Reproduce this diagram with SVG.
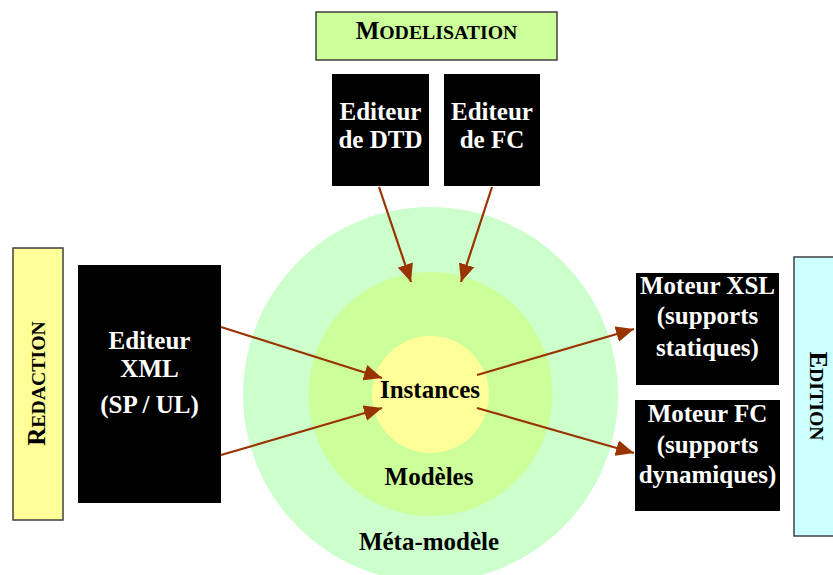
<svg xmlns="http://www.w3.org/2000/svg" width="833" height="575" viewBox="0 0 833 575" font-family="Liberation Serif, Times New Roman, serif" font-weight="bold">
<defs>
<style>
.w{font-size:25px;fill:#fff;text-anchor:middle;}
.b{font-size:25px;fill:#000;text-anchor:middle;}
.box{fill:#000;}
.frame{stroke:#404040;stroke-width:1.5;}
.sc{font-size:19.8px;}
.arr{stroke:#993300;stroke-width:2.2;fill:none;marker-end:url(#ah);}
</style>
<marker id="ah" markerUnits="userSpaceOnUse" markerWidth="20" markerHeight="16" viewBox="0 0 20 16" refX="18" refY="8" orient="auto">
<path d="M0,0 L18,8 L0,16 Z" fill="#993300"/>
</marker>
</defs>
<rect width="833" height="575" fill="#fff"/>
<g id="circles">
<circle cx="430.5" cy="394.5" r="187.5" fill="#CCFFCC"/>
<circle cx="430.5" cy="394" r="122" fill="#CCFF99"/>
<circle cx="430.5" cy="394.5" r="58.5" fill="#FFFF99"/>
<text class="b" x="430" y="398">Instances</text>
<text class="b" x="429" y="485">Modèles</text>
<text class="b" x="429" y="550">Méta-modèle</text>
</g>
<g id="modelisation">
<rect class="frame" x="316" y="12" width="241" height="48" fill="#CCFF99"/>
<text class="b" x="436.5" y="39">M<tspan class="sc">ODELISATION</tspan></text>
</g>
<g id="redaction">
<rect class="frame" x="13" y="248" width="50" height="272" fill="#FFFF99"/>
<text class="b" transform="translate(45,383.5) rotate(-90)">R<tspan class="sc">EDACTION</tspan></text>
</g>
<g id="edition">
<rect class="frame" x="794" y="257" width="45" height="279" fill="#CCFFFF"/>
<text class="b" transform="translate(810,396) rotate(90)">E<tspan class="sc">DITION</tspan></text>
</g>
<g id="editeur-dtd">
<rect class="box" x="332" y="74" width="97" height="112"/>
<text class="w" x="380.5" y="120">Editeur</text>
<text class="w" x="380.5" y="148">de DTD</text>
</g>
<g id="editeur-fc">
<rect class="box" x="444" y="74" width="96" height="112"/>
<text class="w" x="492" y="120">Editeur</text>
<text class="w" x="492" y="148">de FC</text>
</g>
<g id="editeur-xml">
<rect class="box" x="78" y="265" width="143" height="238"/>
<text class="w" x="149.5" y="349">Editeur</text>
<text class="w" x="149.5" y="377">XML</text>
<text class="w" x="149.5" y="413">(SP / UL)</text>
</g>
<g id="moteur-xsl">
<rect class="box" x="636" y="273" width="143" height="112"/>
<text class="w" x="707.5" y="294">Moteur XSL</text>
<text class="w" x="707.5" y="324">(supports</text>
<text class="w" x="707.5" y="356">statiques)</text>
</g>
<g id="moteur-fc">
<rect class="box" x="635" y="400" width="145" height="111"/>
<text class="w" x="707.5" y="422">Moteur FC</text>
<text class="w" x="707.5" y="453">(supports</text>
<text class="w" x="707.5" y="483">dynamiques)</text>
</g>
<g id="connectors">
<line class="arr" x1="379" y1="187" x2="411" y2="282"/>
<line class="arr" x1="492" y1="187" x2="461" y2="282"/>
<line class="arr" x1="221" y1="327" x2="382" y2="378"/>
<line class="arr" x1="221" y1="455" x2="382" y2="408"/>
<line class="arr" x1="477" y1="375" x2="634" y2="329"/>
<line class="arr" x1="477" y1="408" x2="634" y2="453"/>
</g>
</svg>
